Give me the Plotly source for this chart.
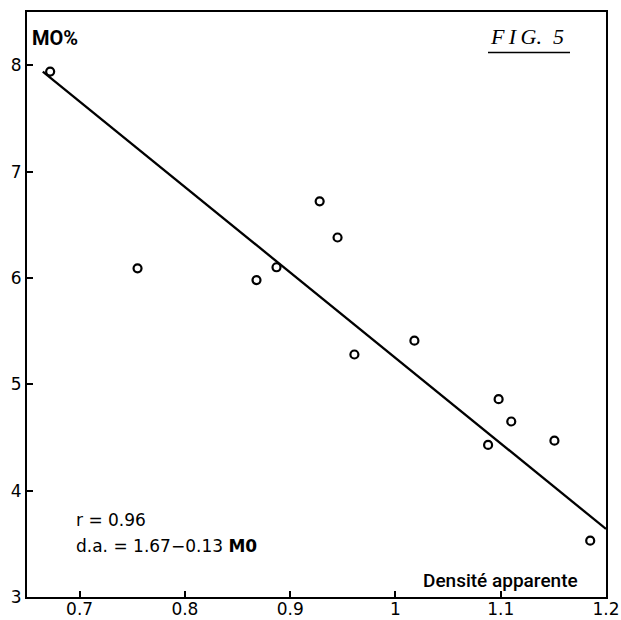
import plotly.graph_objects as go

# Data
densite = [0.672, 0.755, 0.868, 0.887, 0.928, 0.945, 0.961, 1.018, 1.088, 1.098, 1.110, 1.151, 1.185]
mo_pct = [7.94, 6.09, 5.98, 6.10, 6.72, 6.38, 5.28, 5.41, 4.43, 4.86, 4.65, 4.47, 3.53]

# Regression line end points
line_x = [0.665, 1.2]
line_y = [7.94, 3.64]

x_ticks = [0.7, 0.8, 0.9, 1.0, 1.1, 1.2]
x_ticktext = ["0.7", "0.8", "0.9", "1", "1.1", "1.2"]
y_ticks = [3, 4, 5, 6, 7, 8]
y_ticktext = ["3", "4", "5", "6", "7", "8"]

tick_font = dict(family="DejaVu Sans, sans-serif", size=17, color="black")
label_font = "Roboto, Noto Sans, sans-serif"

fig = go.Figure()
fig.add_trace(go.Scatter(x=line_x, y=line_y, mode="lines",
                         line=dict(color="black", width=2.3), showlegend=False))
fig.add_trace(go.Scatter(x=densite, y=mo_pct, mode="markers",
                         marker=dict(symbol="circle-open", size=8, color="black",
                                     line=dict(color="black", width=2.2)),
                         showlegend=False))

W, H = 621, 620
L, R, T, B = 27, 15, 11.5, 23

def px(x):
    return (x - L) / (W - L - R)

def py(y):
    return (H - B - y) / (H - T - B)

fig.update_layout(
    width=W, height=H,
    margin=dict(l=L, r=R, t=T, b=B),
    paper_bgcolor="white", plot_bgcolor="white",
    xaxis=dict(range=[0.65, 1.2], tickvals=x_ticks, ticktext=x_ticktext,
               ticks="inside", ticklen=6, tickwidth=2, tickcolor="black",
               showline=True, linewidth=2, linecolor="black", mirror=True,
               showgrid=False, zeroline=False, tickfont=tick_font, automargin=False,
               ticklabelstandoff=-4),
    yaxis=dict(range=[3, 8.5], tickvals=y_ticks, ticktext=y_ticktext,
               ticks="inside", ticklen=6, tickwidth=2, tickcolor="black",
               showline=True, linewidth=2, linecolor="black", mirror=True,
               showgrid=False, zeroline=False, tickfont=tick_font, automargin=False),
    annotations=[
        dict(text="<b>MO%</b>", xref="paper", yref="paper", x=px(30), y=py(38),
             xanchor="left", yanchor="middle", showarrow=False,
             font=dict(family=label_font, size=20, color="black")),
        dict(text="<i>F\u2009I\u2009G.\u00a0\u00a05</i>", xref="paper", yref="paper", x=px(488), y=py(36),
             xanchor="left", yanchor="middle", showarrow=False,
             font=dict(family="Liberation Serif, DejaVu Serif, serif", size=22, color="black")),
        dict(text="r = 0.96", xref="paper", yref="paper", x=px(74), y=py(520),
             xanchor="left", yanchor="middle", showarrow=False,
             font=dict(family="DejaVu Sans, sans-serif", size=17, color="black")),
        dict(text="d.a. = 1.67\u22120.13 <b>M0</b>", xref="paper", yref="paper", x=px(74), y=py(546),
             xanchor="left", yanchor="middle", showarrow=False,
             font=dict(family="DejaVu Sans, sans-serif", size=17, color="black")),
        dict(text="Densité apparente", xref="paper", yref="paper", x=px(421), y=py(580),
             xanchor="left", yanchor="middle", showarrow=False,
             font=dict(family=label_font, size=19, color="black", weight=500)),
    ],
    shapes=[
        dict(type="line", xref="paper", yref="paper", x0=px(488), x1=px(570),
             y0=py(52), y1=py(52), line=dict(color="black", width=1.5)),
    ],
)

fig.write_html("out.html")
